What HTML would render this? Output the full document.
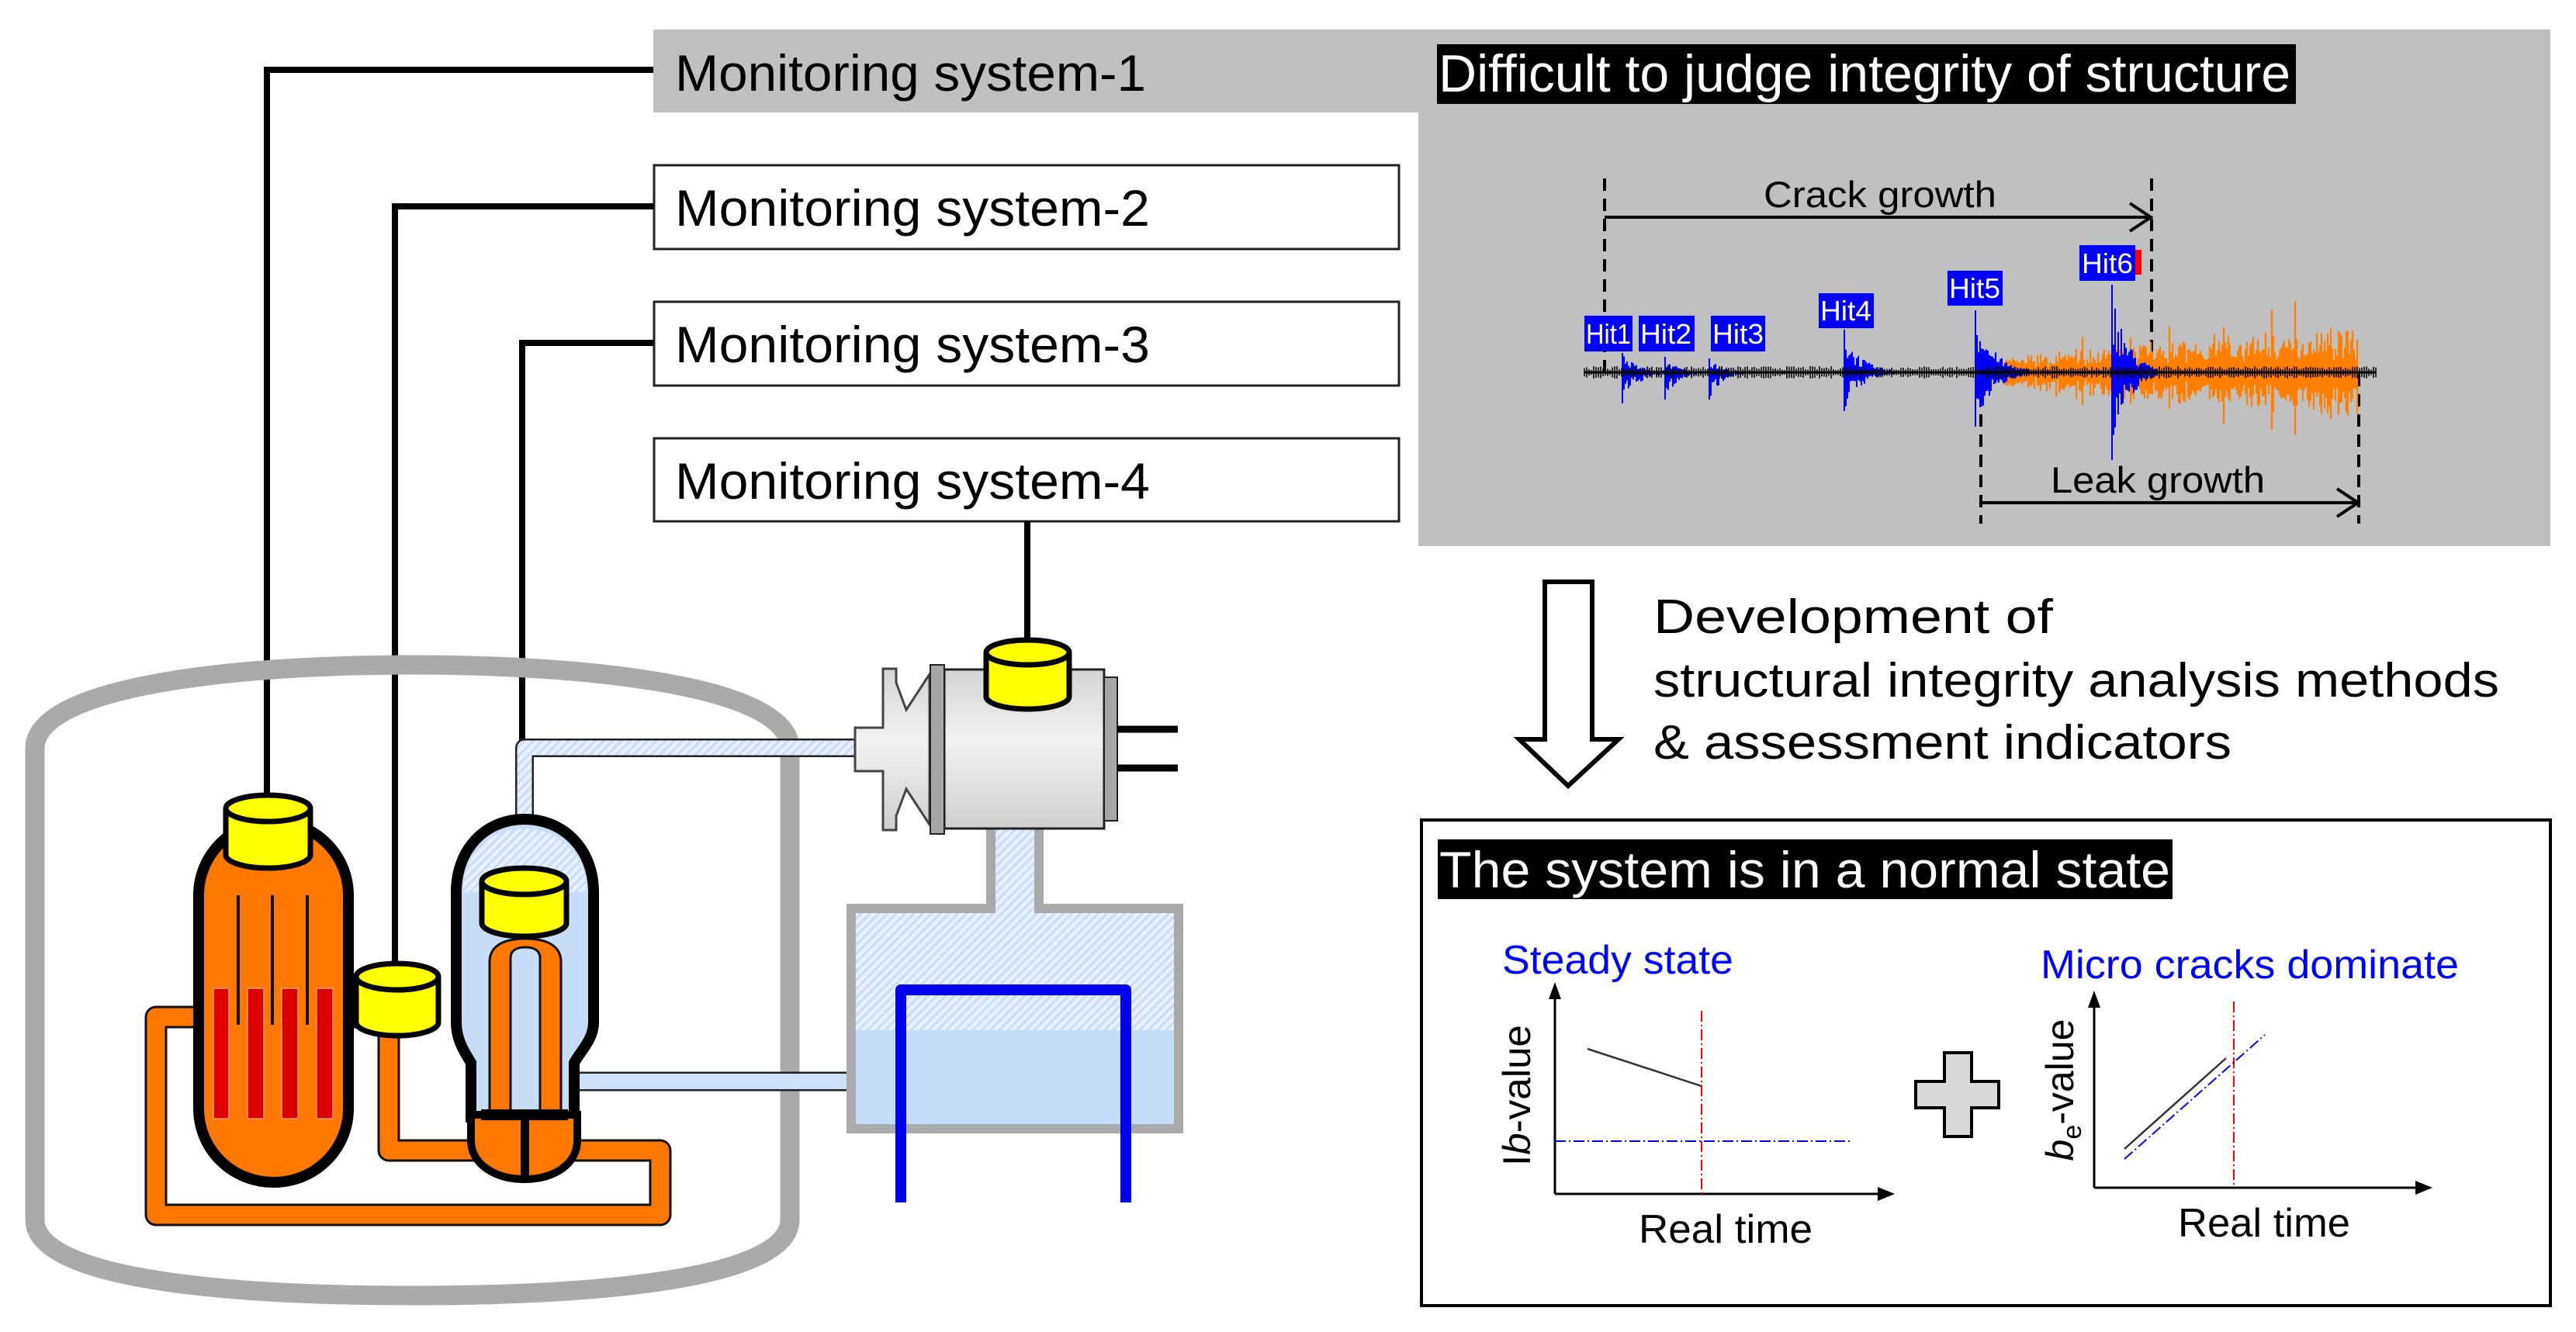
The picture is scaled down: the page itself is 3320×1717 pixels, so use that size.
<!DOCTYPE html>
<html><head><meta charset="utf-8"><style>
html,body{margin:0;padding:0;background:#fff;}
svg{display:block;}
text{font-family:"Liberation Sans",Arial,sans-serif;}
</style></head><body>
<svg id="s" width="3320" height="1717" viewBox="0 0 3320 1717" xmlns="http://www.w3.org/2000/svg">
<defs>
<linearGradient id="tg" x1="0" y1="0" x2="0" y2="1">
<stop offset="0" stop-color="#d4d4d4"/><stop offset="0.45" stop-color="#f2f2f2"/><stop offset="1" stop-color="#cfcfcf"/>
</linearGradient>
<pattern id="hat" width="8" height="8" patternUnits="userSpaceOnUse" patternTransform="rotate(45)">
<rect width="8" height="8" fill="#e6effb"/><rect width="3" height="8" fill="#c9dcf4"/>
</pattern>
</defs>

<rect x="842" y="38" width="2445" height="107" fill="#c0c0c0"/>
<rect x="1828" y="38" width="1459" height="666" fill="#c0c0c0"/>
<rect x="1852" y="57" width="1107" height="77" fill="#000"/>
<text x="1854" y="118" font-size="68" fill="#fff" textLength="1098" lengthAdjust="spacingAndGlyphs">Difficult to judge integrity of structure</text>

<text x="870" y="117" font-size="66" fill="#000" textLength="607" lengthAdjust="spacingAndGlyphs">Monitoring system-1</text>
<rect x="843" y="213" width="960" height="108" fill="#fff" stroke="#222" stroke-width="3"/>
<text x="870" y="291" font-size="66" textLength="612" lengthAdjust="spacingAndGlyphs">Monitoring system-2</text>
<rect x="843" y="389" width="960" height="108" fill="#fff" stroke="#222" stroke-width="3"/>
<text x="870" y="467" font-size="66" textLength="612" lengthAdjust="spacingAndGlyphs">Monitoring system-3</text>
<rect x="843" y="565" width="960" height="107" fill="#fff" stroke="#222" stroke-width="3"/>
<text x="870" y="643" font-size="66" textLength="612" lengthAdjust="spacingAndGlyphs">Monitoring system-4</text>

<g stroke="#000" stroke-width="8" fill="none">
<polyline points="344,1030 344,90 842,90"/>
<polyline points="509,1245 509,266 842,266"/>
<polyline points="673,1122 673,442 842,442"/>
<line x1="1324" y1="672" x2="1324" y2="830"/>
</g>

<path d="M45,1572 V965 C45,885 300,857 531,857 C762,857 1018,885 1018,965 V1572 C1018,1650 762,1670 531,1670 C300,1670 45,1650 45,1572 Z" fill="none" stroke="#aaaaaa" stroke-width="25"/>

<polyline points="676,1070 676,964 1105,964" fill="none" stroke="#222" stroke-width="24" stroke-linejoin="round"/>
<polyline points="676,1070 676,964 1105,964" fill="none" stroke="url(#hat)" stroke-width="19" stroke-linejoin="round"/>
<line x1="730" y1="1394" x2="1095" y2="1394" stroke="#222" stroke-width="25"/>
<line x1="730" y1="1394" x2="1095" y2="1394" stroke="#cfe1f8" stroke-width="20"/>

<g fill="none" stroke-linejoin="round">
<polyline points="260,1311 201,1311 201,1566 851,1566 851,1483 700,1483" stroke="#111" stroke-width="29"/>
<polyline points="640,1483 501,1483 501,1330" stroke="#111" stroke-width="29"/>
<polyline points="445,1311 470,1311" stroke="#111" stroke-width="29"/>
<polyline points="260,1311 201,1311 201,1566 851,1566 851,1483 700,1483" stroke="#ff7800" stroke-width="23"/>
<polyline points="640,1483 501,1483 501,1330" stroke="#ff7800" stroke-width="23"/>
<polyline points="445,1311 470,1311" stroke="#ff7800" stroke-width="23"/>
</g>

<rect x="256" y="1059" width="193" height="465" rx="96" ry="95" fill="#ff7800" stroke="#000" stroke-width="14"/>
<g stroke="#111" stroke-width="4">
<line x1="307" y1="1154" x2="307" y2="1321"/><line x1="351" y1="1154" x2="351" y2="1321"/><line x1="396" y1="1154" x2="396" y2="1321"/>
</g>
<g fill="#dd0000" stroke="#ff9a80" stroke-width="1.5">
<rect x="275" y="1274" width="20" height="168"/><rect x="319" y="1274" width="21" height="168"/>
<rect x="363" y="1274" width="21" height="168"/><rect x="408" y="1274" width="21" height="168"/>
</g>

<path d="M588,1150 C588,1095 625,1056 676,1056 C727,1056 765,1095 765,1150 V1318 C765,1340 748,1355 740,1370 V1440 L607,1440 V1370 C598,1355 588,1340 588,1318 Z" fill="#c6dcf7" stroke="#000" stroke-width="14"/>
<path d="M597,1150 C597,1100 630,1068 676,1068 C722,1068 756,1100 756,1150 Z" fill="url(#hat)"/>
<path d="M631,1435 V1240 C631,1222 645,1210 677,1210 C709,1210 723,1222 723,1240 V1435 Z" fill="#ff7800" stroke="#111" stroke-width="3"/>
<path d="M658,1435 V1235 C658,1225 666,1221 677,1221 C688,1221 696,1225 696,1235 V1435 Z" fill="#c6dcf7" stroke="#111" stroke-width="3"/>
<path d="M607,1437 H744 V1470 C744,1500 715,1520 676,1520 C637,1520 607,1500 607,1470 Z" fill="#ff7800" stroke="#000" stroke-width="10"/>
<rect x="620" y="1430" width="112" height="14" fill="#000"/>
<rect x="671" y="1430" width="11" height="90" fill="#000"/>

<g fill="#ffff00" stroke="#000" stroke-width="7">
<path d="M291,1042 V1102 A54.5,17 0 0 0 400,1102 V1042"/><ellipse cx="345.5" cy="1042" rx="54.5" ry="17"/>
<path d="M459,1259 V1318 A53,17 0 0 0 565,1318 V1259"/><ellipse cx="512" cy="1259" rx="53" ry="17"/>
<path d="M621,1136 V1190 A54.5,17 0 0 0 730,1190 V1136"/><ellipse cx="675.5" cy="1136" rx="54.5" ry="17"/>
</g>

<path d="M1271,1068 V1165 H1091 V1461 H1525 V1165 H1345 V1068 Z" fill="#aaaaaa"/>
<path d="M1283,1068 V1177 H1103 V1449 H1513 V1177 H1333 V1068 Z" fill="url(#hat)"/>
<rect x="1103" y="1328" width="410" height="121" fill="#c6dcf7"/>
<polyline points="1161,1550 1161,1276 1451,1276 1451,1550" fill="none" stroke="#0000ee" stroke-width="14" stroke-linejoin="round"/>

<path d="M1138,862 H1155 V880 L1168,915 L1198,869 V1063 L1168,1017 L1155,1052 V1070 H1138 V994 H1102 V938 H1138 Z" fill="url(#tg)" stroke="#444" stroke-width="3"/>
<rect x="1217" y="863" width="206" height="205" fill="url(#tg)" stroke="#222" stroke-width="3"/>
<rect x="1199" y="857" width="18" height="218" fill="#a6a6a6" stroke="#222" stroke-width="2"/>
<rect x="1423" y="873" width="17" height="185" fill="#a6a6a6" stroke="#222" stroke-width="2"/>
<line x1="1440" y1="940" x2="1518" y2="940" stroke="#000" stroke-width="9"/>
<line x1="1440" y1="990" x2="1518" y2="990" stroke="#000" stroke-width="9"/>
<g fill="#ffff00" stroke="#000" stroke-width="7">
<path d="M1271,841 V898 A53.5,16 0 0 0 1378,898 V841"/><ellipse cx="1324.5" cy="841" rx="53.5" ry="16"/>
</g>

<g stroke="#000" stroke-width="4" stroke-dasharray="16,10">
<line x1="2068" y1="230" x2="2068" y2="482"/><line x1="2773" y1="230" x2="2773" y2="482"/>
<line x1="2553" y1="482" x2="2553" y2="675"/><line x1="3040" y1="482" x2="3040" y2="675"/>
</g>
<g stroke="#000" stroke-width="4" fill="none">
<line x1="2068" y1="280" x2="2770" y2="280"/><polyline points="2745,262 2772,280 2745,298"/>
<line x1="2553" y1="648" x2="3037" y2="648"/><polyline points="3012,630 3039,648 3012,666"/>
</g>
<text x="2273" y="267" font-size="47" textLength="300" lengthAdjust="spacingAndGlyphs">Crack growth</text>
<text x="2643" y="635" font-size="47" textLength="276" lengthAdjust="spacingAndGlyphs">Leak growth</text>
<g id="wave"></g>
<line x1="2042" y1="480" x2="3063" y2="480" stroke="#000" stroke-width="3"/>
<g fill="#0000ff">
<rect x="2042" y="407" width="62" height="46"/><rect x="2112" y="407" width="72" height="46"/>
<rect x="2205" y="407" width="70" height="46"/><rect x="2344" y="378" width="71" height="45"/>
<rect x="2510" y="349" width="71" height="45"/><rect x="2680" y="316" width="72" height="46"/>
</g>
<rect x="2752" y="322" width="8" height="32" fill="#ff0000"/>
<g font-size="36" fill="#fff">
<text x="2044" y="443" textLength="58" lengthAdjust="spacingAndGlyphs">Hit1</text>
<text x="2114" y="443" textLength="66" lengthAdjust="spacingAndGlyphs">Hit2</text>
<text x="2207" y="443" textLength="66" lengthAdjust="spacingAndGlyphs">Hit3</text>
<text x="2346" y="413" textLength="66" lengthAdjust="spacingAndGlyphs">Hit4</text>
<text x="2512" y="384" textLength="66" lengthAdjust="spacingAndGlyphs">Hit5</text>
<text x="2683" y="352" textLength="66" lengthAdjust="spacingAndGlyphs">Hit6</text>
</g>

<path d="M1991,750 H2052 V953 H2086 L2021,1013 L1958,953 H1991 Z" fill="#fff" stroke="#000" stroke-width="6" stroke-linejoin="miter"/>
<g font-size="62">
<text x="2131" y="816" textLength="515" lengthAdjust="spacingAndGlyphs">Development of</text>
<text x="2131" y="898" textLength="1090" lengthAdjust="spacingAndGlyphs">structural integrity analysis methods</text>
<text x="2131" y="978" textLength="745" lengthAdjust="spacingAndGlyphs">&amp; assessment indicators</text>
</g>

<rect x="1832" y="1057" width="1455" height="626" fill="#fff" stroke="#000" stroke-width="4"/>
<rect x="1853" y="1082" width="947" height="77" fill="#000"/>
<text x="1855" y="1144" font-size="66" fill="#fff" textLength="942" lengthAdjust="spacingAndGlyphs">The system is in a normal state</text>

<text x="1936" y="1255" font-size="52" fill="#0000ff" textLength="298" lengthAdjust="spacingAndGlyphs">Steady state</text>
<text x="2630" y="1261" font-size="52" fill="#0000ff" textLength="539" lengthAdjust="spacingAndGlyphs">Micro cracks dominate</text>

<g stroke="#000" stroke-width="3">
<line x1="2004" y1="1285" x2="2004" y2="1539"/><line x1="2004" y1="1539" x2="2425" y2="1539"/>
</g>
<polygon points="2004,1266 1996,1288 2012,1288" fill="#000"/>
<polygon points="2442,1539 2420,1530 2420,1548" fill="#000"/>
<line x1="2046" y1="1352" x2="2193" y2="1400" stroke="#333" stroke-width="2.5"/>
<line x1="2193" y1="1303" x2="2193" y2="1539" stroke="#ff0000" stroke-width="2" stroke-dasharray="14,4,2,4"/>
<line x1="2004" y1="1471" x2="2387" y2="1471" stroke="#0000ff" stroke-width="2" stroke-dasharray="14,4,2,4"/>
<text transform="translate(1972,1412) rotate(-90)" font-size="50" text-anchor="middle" textLength="182" lengthAdjust="spacingAndGlyphs">I<tspan font-style="italic">b</tspan>-value</text>
<text x="2112" y="1602" font-size="52" textLength="224" lengthAdjust="spacingAndGlyphs">Real time</text>

<path d="M2506,1357 H2541 V1394 H2576 V1428 H2541 V1465 H2506 V1428 H2469 V1394 H2506 Z" fill="#d9d9d9" stroke="#000" stroke-width="4"/>

<g stroke="#000" stroke-width="3">
<line x1="2699" y1="1296" x2="2699" y2="1531"/><line x1="2699" y1="1531" x2="3115" y2="1531"/>
</g>
<polygon points="2699,1277 2691,1299 2707,1299" fill="#000"/>
<polygon points="3135,1531 3113,1522 3113,1540" fill="#000"/>
<line x1="2879" y1="1291" x2="2879" y2="1527" stroke="#ff0000" stroke-width="2" stroke-dasharray="14,4,2,4"/>
<line x1="2738" y1="1481" x2="2869" y2="1364" stroke="#333" stroke-width="2.5"/>
<line x1="2738" y1="1494" x2="2919" y2="1334" stroke="#0000ff" stroke-width="2" stroke-dasharray="14,4,2,4"/>
<text transform="translate(2672,1405) rotate(-90)" font-size="50" text-anchor="middle"><tspan font-style="italic">b</tspan><tspan font-size="34" dy="10">e</tspan><tspan dy="-10">-value</tspan></text>
<text x="2807" y="1594" font-size="52" textLength="222" lengthAdjust="spacingAndGlyphs">Real time</text>
</svg>
<script>
(function(){
var seed=7;function r(){seed=(seed*16807)%2147483647;return seed/2147483647;}
var g=document.getElementById('wave');var ns='http://www.w3.org/2000/svg';
function path(d,c,w){var p=document.createElementNS(ns,'path');p.setAttribute('d',d);p.setAttribute('stroke',c);p.setAttribute('stroke-width',w);p.setAttribute('fill','none');g.appendChild(p);}
var y0=480,d='';
for(var x=2582;x<=3038;x+=2){var t=(x-2582)/456;var a=(18+40*t)*(0.4+0.6*r());if(r()<0.05)a*=1.6;d+='M'+x+','+(y0-a*(0.7+0.5*r()))+'V'+(y0+a*(0.7+0.5*r()));}
path(d,'#ff8000',2.2);
var hits=[[2091,25,40,60],[2146,20,35,50],[2203,18,35,50],[2377,55,50,65],[2546,80,70,70],[2722,113,113,60]];
d='';
hits.forEach(function(h){var x0=h[0];for(var x=x0;x<x0+h[3];x+=2){var k=Math.exp(-(x-x0)/(h[3]/3));var up=h[1]*k*(0.3+0.7*r()),dn=h[2]*k*(0.3+0.7*r());if(x==x0){up=h[1];dn=h[2];}d+='M'+x+','+(y0-up)+'V'+(y0+dn);}});
for(var x=2550;x<2600;x+=2){var a=40*Math.exp(-(x-2550)/25)*r();d+='M'+x+','+(y0-a)+'V'+(y0+a);}
path(d,'#0000ff',2);
d='';
for(var x=2042;x<=3063;x+=3){var a=3+5*r();d+='M'+x+','+(y0-a)+'V'+(y0+a);}
path(d,'#000',1.5);
})();
</script>
</body></html>
